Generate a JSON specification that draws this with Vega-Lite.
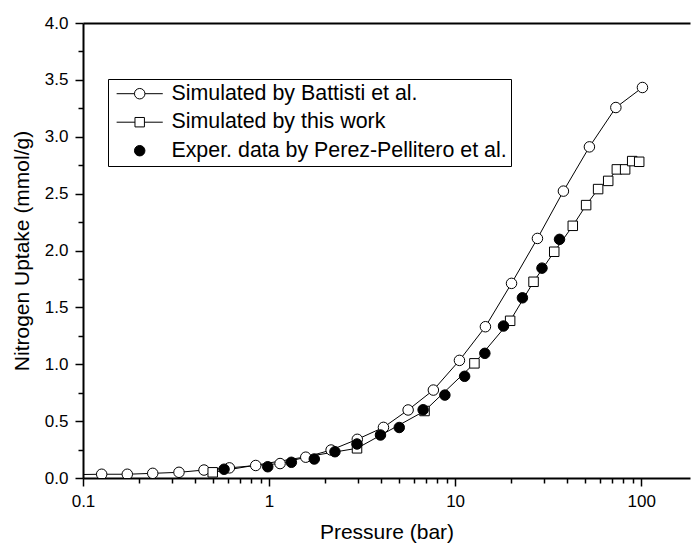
{
  "$schema": "https://vega.github.io/schema/vega-lite/v6.json",
  "width": 607,
  "height": 455,
  "autosize": {"type": "none"},
  "padding": {"left": 83, "top": 23, "right": 1, "bottom": 69},
  "background": "white",
  "config": {
    "view": {"stroke": null},
    "font": "Liberation Sans",
    "axis": {
      "grid": false,
      "domainColor": "black",
      "domainWidth": 2,
      "tickColor": "black",
      "tickWidth": 1.5,
      "labelColor": "black",
      "labelFont": "Liberation Sans",
      "labelFontSize": 17,
      "titleFont": "Liberation Sans",
      "titleFontSize": 21,
      "titleFontWeight": "normal",
      "titleColor": "black",
      "labelOverlap": false,
      "labelFlush": false
    }
  },
  "data": {
    "values": [
      {"series": "Simulated by Battisti et al.", "P": 0.092, "U": 0.03},
      {"series": "Simulated by Battisti et al.", "P": 0.126, "U": 0.033},
      {"series": "Simulated by Battisti et al.", "P": 0.173, "U": 0.033},
      {"series": "Simulated by Battisti et al.", "P": 0.237, "U": 0.041},
      {"series": "Simulated by Battisti et al.", "P": 0.328, "U": 0.05},
      {"series": "Simulated by Battisti et al.", "P": 0.447, "U": 0.07},
      {"series": "Simulated by Battisti et al.", "P": 0.612, "U": 0.089},
      {"series": "Simulated by Battisti et al.", "P": 0.848, "U": 0.11},
      {"series": "Simulated by Battisti et al.", "P": 1.146, "U": 0.127},
      {"series": "Simulated by Battisti et al.", "P": 1.575, "U": 0.183},
      {"series": "Simulated by Battisti et al.", "P": 2.155, "U": 0.246},
      {"series": "Simulated by Battisti et al.", "P": 2.98, "U": 0.34},
      {"series": "Simulated by Battisti et al.", "P": 4.12, "U": 0.445},
      {"series": "Simulated by Battisti et al.", "P": 5.59, "U": 0.598},
      {"series": "Simulated by Battisti et al.", "P": 7.64, "U": 0.773},
      {"series": "Simulated by Battisti et al.", "P": 10.55, "U": 1.034},
      {"series": "Simulated by Battisti et al.", "P": 14.55, "U": 1.33},
      {"series": "Simulated by Battisti et al.", "P": 20.1, "U": 1.711},
      {"series": "Simulated by Battisti et al.", "P": 27.7, "U": 2.106},
      {"series": "Simulated by Battisti et al.", "P": 38.2, "U": 2.522},
      {"series": "Simulated by Battisti et al.", "P": 52.7, "U": 2.911},
      {"series": "Simulated by Battisti et al.", "P": 73.1, "U": 3.257},
      {"series": "Simulated by Battisti et al.", "P": 101.6, "U": 3.433},
      {"series": "Simulated by this work", "P": 0.498, "U": 0.05},
      {"series": "Simulated by this work", "P": 2.97, "U": 0.261},
      {"series": "Simulated by this work", "P": 6.85, "U": 0.589},
      {"series": "Simulated by this work", "P": 12.7, "U": 1.008},
      {"series": "Simulated by this work", "P": 19.76, "U": 1.382},
      {"series": "Simulated by this work", "P": 26.4, "U": 1.725},
      {"series": "Simulated by this work", "P": 34.1, "U": 1.989},
      {"series": "Simulated by this work", "P": 42.9, "U": 2.217},
      {"series": "Simulated by this work", "P": 50.6, "U": 2.399},
      {"series": "Simulated by this work", "P": 58.7, "U": 2.54},
      {"series": "Simulated by this work", "P": 66.5, "U": 2.612},
      {"series": "Simulated by this work", "P": 74.0, "U": 2.713},
      {"series": "Simulated by this work", "P": 82.0, "U": 2.713},
      {"series": "Simulated by this work", "P": 89.5, "U": 2.786},
      {"series": "Simulated by this work", "P": 97.6, "U": 2.78},
      {"series": "Exper. data by Perez-Pellitero et al.", "P": 0.573, "U": 0.077},
      {"series": "Exper. data by Perez-Pellitero et al.", "P": 0.984, "U": 0.099},
      {"series": "Exper. data by Perez-Pellitero et al.", "P": 1.318, "U": 0.138},
      {"series": "Exper. data by Perez-Pellitero et al.", "P": 1.75, "U": 0.167},
      {"series": "Exper. data by Perez-Pellitero et al.", "P": 2.26, "U": 0.231},
      {"series": "Exper. data by Perez-Pellitero et al.", "P": 2.97, "U": 0.299},
      {"series": "Exper. data by Perez-Pellitero et al.", "P": 3.97, "U": 0.378},
      {"series": "Exper. data by Perez-Pellitero et al.", "P": 5.01, "U": 0.444},
      {"series": "Exper. data by Perez-Pellitero et al.", "P": 6.73, "U": 0.6},
      {"series": "Exper. data by Perez-Pellitero et al.", "P": 8.81, "U": 0.729},
      {"series": "Exper. data by Perez-Pellitero et al.", "P": 11.25, "U": 0.894},
      {"series": "Exper. data by Perez-Pellitero et al.", "P": 14.45, "U": 1.096},
      {"series": "Exper. data by Perez-Pellitero et al.", "P": 18.2, "U": 1.336},
      {"series": "Exper. data by Perez-Pellitero et al.", "P": 23.0, "U": 1.584},
      {"series": "Exper. data by Perez-Pellitero et al.", "P": 29.3, "U": 1.845},
      {"series": "Exper. data by Perez-Pellitero et al.", "P": 36.4, "U": 2.098}
    ]
  },
  "encoding": {
    "x": {
      "field": "P",
      "type": "quantitative",
      "title": "Pressure (bar)",
      "scale": {"type": "log", "domain": [0.1, 183], "nice": false},
      "axis": null
    },
    "y": {
      "field": "U",
      "type": "quantitative",
      "title": "Nitrogen Uptake (mmol/g)",
      "scale": {"domain": [0, 4], "nice": false},
      "axis": null
    }
  },
  "layer": [
    {
      "transform": [{"filter": "datum.series != 'Exper. data by Perez-Pellitero et al.'"}],
      "mark": {"type": "line", "color": "black", "strokeWidth": 1, "clip": true},
      "encoding": {
        "x": {
          "field": "P",
          "type": "quantitative",
          "title": "Pressure (bar)",
          "scale": {"type": "log", "domain": [0.1, 183], "nice": false},
          "axis": {
            "orient": "bottom",
            "values": [0.1, 0.2, 0.3, 0.4, 0.5, 0.6, 0.7, 0.8, 0.9, 1, 2, 3, 4, 5, 6, 7, 8, 9, 10, 20, 30, 40, 50, 60, 70, 80, 90, 100],
            "format": "~g",
            "labelExpr": "(datum.value == 0.1 || datum.value == 1 || datum.value == 10 || datum.value == 100) ? datum.label : ''",
            "tickSize": {"condition": {"test": "datum.value != 0.1 && datum.value != 1 && datum.value != 10 && datum.value != 100", "value": 5}, "value": 8},
            "labelPadding": 7,
            "titlePadding": 12
          }
        },
        "y": {
          "field": "U",
          "type": "quantitative",
          "title": "Nitrogen Uptake (mmol/g)",
          "scale": {"domain": [0, 4], "nice": false},
          "axis": {
            "orient": "left",
            "values": [0, 0.25, 0.5, 0.75, 1, 1.25, 1.5, 1.75, 2, 2.25, 2.5, 2.75, 3, 3.25, 3.5, 3.75, 4],
            "format": ".1f",
            "labelExpr": "datum.value % 0.5 == 0 ? datum.label : ''",
            "tickSize": {"condition": {"test": "datum.value % 0.5 != 0", "value": 5}, "value": 8},
            "labelPadding": 7,
            "titlePadding": 12
          }
        },
        "detail": {"field": "series"}
      }
    },
    {
      "transform": [{"filter": "datum.series == 'Simulated by Battisti et al.'"}],
      "mark": {"type": "point", "shape": "circle", "filled": true, "fill": "white", "stroke": "black", "strokeWidth": 1, "size": 110, "opacity": 1, "clip": true}
    },
    {
      "transform": [{"filter": "datum.series == 'Simulated by this work'"}],
      "mark": {"type": "point", "shape": "square", "filled": true, "fill": "white", "stroke": "black", "strokeWidth": 1, "size": 90, "opacity": 1, "clip": true}
    },
    {
      "transform": [{"filter": "datum.series == 'Exper. data by Perez-Pellitero et al.'"}],
      "mark": {"type": "point", "shape": "circle", "filled": true, "fill": "black", "stroke": "black", "strokeWidth": 1, "size": 110, "opacity": 1, "clip": true}
    },
    {
      "transform": [{"filter": "false"}],
      "mark": {"type": "point", "filled": true, "strokeWidth": 1, "size": 110, "opacity": 1},
      "encoding": {
        "x": {
          "field": "P",
          "type": "quantitative",
          "scale": {"type": "log", "domain": [0.1, 183], "nice": false},
          "axis": {"orient": "top", "labels": false, "ticks": false, "title": null, "domainWidth": 2}
        },
        "shape": {
          "field": "series",
          "type": "nominal",
          "scale": {
            "domain": ["Simulated by Battisti et al.", "Simulated by this work", "Exper. data by Perez-Pellitero et al."],
            "range": [
              "M-4.4,0L-1,0M1,0L4.4,0M1,0A1,1,0,1,1,-1,0A1,1,0,1,1,1,0Z",
              "M-4.4,0L-0.9,0M0.9,0L4.4,0M-0.9,-0.9L0.9,-0.9L0.9,0.9L-0.9,0.9Z",
              "circle"
            ]
          },
          "legend": {
            "title": null,
            "orient": "none",
            "legendX": 25,
            "legendY": 56,
            "direction": "vertical",
            "labelFont": "Liberation Sans",
            "labelFontSize": 21.4,
            "labelColor": "black",
            "labelLimit": 600,
            "labelOffset": 21,
            "symbolOffset": 17,
            "padding": 4,
            "rowPadding": 5.5,
            "strokeColor": "black",
            "fillColor": "white",
            "symbolSize": 110,
            "symbolStrokeWidth": 1
          }
        },
        "fill": {
          "field": "series",
          "type": "nominal",
          "scale": {
            "domain": ["Simulated by Battisti et al.", "Simulated by this work", "Exper. data by Perez-Pellitero et al."],
            "range": ["white", "white", "black"]
          }
        },
        "stroke": {
          "field": "series",
          "type": "nominal",
          "scale": {
            "domain": ["Simulated by Battisti et al.", "Simulated by this work", "Exper. data by Perez-Pellitero et al."],
            "range": ["black", "black", "black"]
          }
        }
      }
    }
  ],
  "resolve": {"axis": {"x": "independent", "y": "independent"}}
}
